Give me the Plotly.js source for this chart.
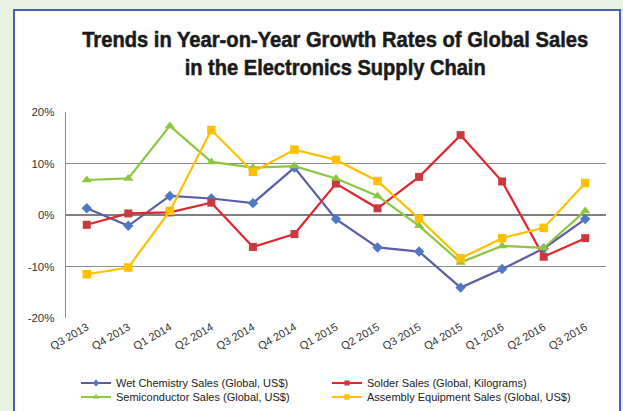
<!DOCTYPE html>
<html>
<head>
<meta charset="utf-8">
<script src="https://cdn.plot.ly/plotly-3.0.1.min.js"></script>
<style>
  html, body { margin: 0; padding: 0; width: 623px; height: 411px; overflow: hidden; background: #e8f2e2; }
  #box { position: absolute; left: 13px; top: 9px; width: 604px; height: 420px; background: #ffffff;
         border-left: 2px solid #4660b8; border-top: 2px solid #4660b8; border-right: 2px solid #4660b8; }
  #chart { position: absolute; left: 0; top: 0; width: 623px; height: 411px; }
  #chart .gtitle { stroke: #1a1a1a; stroke-width: 0.5px; }
</style>
</head>
<body>
<div id="box"></div>
<div id="chart"></div>
<script>
const quarters = ["Q3 2013","Q4 2013","Q1 2014","Q2 2014","Q3 2014","Q4 2014","Q1 2015","Q2 2015","Q3 2015","Q4 2015","Q1 2016","Q2 2016","Q3 2016"];
const wetChemistry = [1.3, -2.1, 3.7, 3.2, 2.3, 9.2, -0.8, -6.3, -7.1, -14.1, -10.5, -6.5, -0.8];
const solder = [-1.9, 0.3, 0.5, 2.4, -6.2, -3.7, 6.1, 1.3, 7.4, 15.5, 6.5, -8.1, -4.5];
const semiconductor = [6.8, 7.1, 17.3, 10.3, 9.2, 9.5, 7.1, 3.7, -2.1, -9.2, -6.0, -6.4, 0.8];
const assembly = [-11.5, -10.2, 0.8, 16.5, 8.4, 12.7, 10.7, 6.6, -0.7, -8.4, -4.5, -2.5, 6.2];
const yTicks = [-20, -10, 0, 10, 20];
const yTickLabels = ["-20%", "-10%", "0%", "10%", "20%"];

const names = ["Wet Chemistry Sales (Global, US$)", "Solder Sales (Global, Kilograms)",
               "Semiconductor Sales (Global, US$)", "Assembly Equipment Sales (Global, US$)"];

function tr(y, name, lineColor, markerColor, symbol, size, legend) {
  return {
    x: quarters, y: y, name: name, type: 'scatter', mode: 'lines+markers',
    line: { color: lineColor, width: 2.2 },
    marker: { color: markerColor, symbol: symbol, size: size, line: { width: 0 } },
    legend: legend,
    hoverinfo: 'skip'
  };
}

const data = [
  tr(wetChemistry, names[0], '#5b5ea6', '#4f78c4', 'diamond', 8, 'legend'),
  tr(solder, names[1], '#e3262e', '#c9393f', 'square', 8, 'legend'),
  tr(semiconductor, names[2], '#8dc641', '#8dc63f', 'triangle-up', 9, 'legend2'),
  tr(assembly, names[3], '#ffc000', '#ffc000', 'square', 8.5, 'legend2')
];

const legendCommon = {
  orientation: 'h', xanchor: 'left', yanchor: 'middle',
  xref: 'container', yref: 'container',
  bgcolor: 'rgba(0,0,0,0)', borderwidth: 0,
  font: { family: 'Arial, Liberation Sans, sans-serif', size: 11, color: '#222222' },
  entrywidth: 206, entrywidthmode: 'pixels', itemwidth: 30, tracegroupgap: 0
};

const layout = {
  width: 623, height: 411,
  paper_bgcolor: 'rgba(0,0,0,0)', plot_bgcolor: 'rgba(0,0,0,0)',
  margin: { l: 66, r: 17, t: 112, b: 93, pad: 0 },
  title: {
    text: 'Trends in Year-on-Year Growth Rates of Global Sales<br>in the Electronics Supply Chain',
    font: { family: 'Liberation Sans, Arial, sans-serif', size: 21.5, color: '#1a1a1a', weight: 'bold' },
    xref: 'container', x: 0.538, xanchor: 'center',
    yref: 'container', y: 0.886, yanchor: 'top'
  },
  showlegend: true,
  legend: Object.assign({}, legendCommon, { x: 76 / 623, y: 1 - 383 / 411 }),
  legend2: Object.assign({}, legendCommon, { x: 76 / 623, y: 1 - 397 / 411 }),
  xaxis: {
    type: 'category', range: [-0.5, 12.5], tickangle: -30,
    showgrid: false, zeroline: false, showline: false, ticks: '',
    tickfont: { family: 'Arial, Liberation Sans, sans-serif', size: 11, color: '#333333' },
    fixedrange: true
  },
  yaxis: {
    range: [-20, 20], tickvals: yTicks, ticktext: yTickLabels,
    showgrid: true, gridcolor: '#8c8c8c', gridwidth: 1.2,
    zeroline: true, zerolinecolor: '#808080', zerolinewidth: 2,
    showline: true, linecolor: '#8c8c8c', linewidth: 1.2,
    ticks: '', ticklabelstandoff: 8,
    tickfont: { family: 'Arial, Liberation Sans, sans-serif', size: 11.5, color: '#333333' },
    fixedrange: true
  }
};

const titleWidths = [506, 301];

Plotly.newPlot('chart', data, layout, { displayModeBar: false, staticPlot: true }).then(function (gd) {
  gd.querySelectorAll('.gtitle tspan.line').forEach(function (t, i) {
    if (titleWidths[i]) {
      t.setAttribute('textLength', titleWidths[i]);
      t.setAttribute('lengthAdjust', 'spacingAndGlyphs');
    }
  });
  // smaller marker glyphs in the legend samples, as in the reference
  gd.querySelectorAll('.legendpoints path.scatterpts').forEach(function (p) {
    const cur = p.getAttribute('transform') || '';
    p.setAttribute('transform', cur + ' scale(0.65)');
  });
});
</script>
</body>
</html>
